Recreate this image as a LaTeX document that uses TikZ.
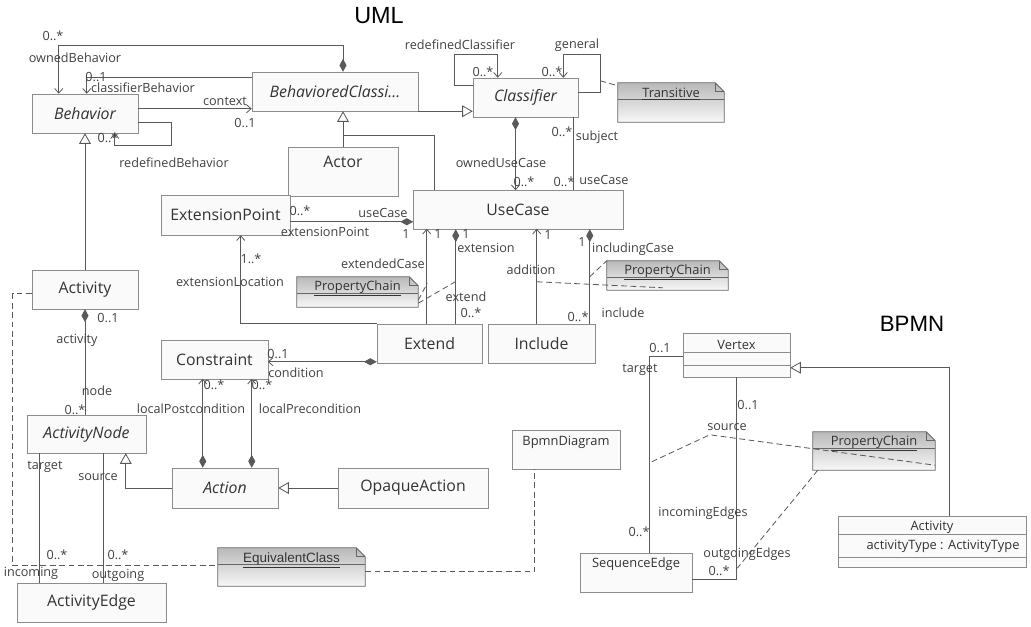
\documentclass[tikz,border=0pt]{standalone}
\usepackage{fontspec}
\setmainfont{Open Sans}
\newfontfamily\arialf{Liberation Sans}
\usetikzlibrary{arrows.meta,calc,shadows,backgrounds}

\begin{document}
\begin{tikzpicture}[
    x=0.03cm, y=-0.03cm,
    box/.style={draw=black!45, fill=gray!4, minimum height=1.17cm, text=black!80, font=\fontsize{13.5}{15}\selectfont, drop shadow={shadow xshift=1.2pt, shadow yshift=-1.2pt, opacity=0.3}},
    sbox/.style={box, font=\fontsize{11}{13}\selectfont},
    note/.style={inner ysep=1pt, text=black!80, font=\fontsize{11}{13}\selectfont},
    txtup/.style={text depth=#1},
    lbl/.style={inner sep=0pt, text=black!75, font=\fontsize{10.8}{12}\selectfont},
    conn/.style={draw=black!65, line width=0.7pt},
    assoc/.style={conn, -{Straight Barb[length=4pt, width=7pt]}},
    gen/.style={conn, -{Triangle[length=9pt, width=10pt, fill=white]}},
    comp/.style={conn, {Diamond[length=11pt, width=6pt]}-{Straight Barb[length=4pt, width=7pt]}},
    compn/.style={conn, {Diamond[length=11pt, width=6pt]}-},
    dep/.style={conn, dash pattern=on 5pt off 3pt},
    notebd/.style={draw=black!60, line width=0.7pt}
]
\useasboundingbox (0,0) rectangle (1031,627);

\node[font=\arialf\fontsize{20}{22}\selectfont] (umlttl) at (379,16) {UML};
\node[font=\arialf\fontsize{19}{21}\selectfont] (bpmnttl) at (912,324) {BPMN};

\node[box, minimum width=3.18cm] (behav) at (85,113.5) {\itshape Behavior};
\node[box, minimum width=4.98cm] (bclass) at (335,91.5) {\itshape BehavioredClassi...};
\node[box, minimum width=3.15cm] (cls) at (525.5,97.5) {\itshape Classifier};
\node[box, minimum width=3.3cm, minimum height=1.47cm, txtup=0.57cm] (actor) at (343,171.5) {Actor};
\node[box, minimum width=6.3cm] (usecase) at (518,209.5) {UseCase};
\node[box, minimum width=3.87cm, minimum height=1.2cm] (extpt) at (225.5,215) {ExtensionPoint};
\node[box, minimum width=3.18cm] (activity) at (85,289.5) {Activity};
\node[box, minimum width=3.21cm] (constr) at (214.5,359.5) {Constraint};
\node[box, minimum width=3.15cm] (extend) at (429.5,343.5) {Extend};
\node[box, minimum width=3.21cm] (incl) at (541.5,343.5) {Include};
\node[box, minimum width=3.57cm, minimum height=1.14cm] (anode) at (86.5,434) {\itshape ActivityNode};
\node[box, minimum width=3.18cm, minimum height=1.2cm] (action) at (225,488) {\itshape Action};
\node[box, minimum width=4.5cm, minimum height=1.2cm] (opaque) at (413,488) {OpaqueAction};
\node[box, minimum width=4.47cm] (aedge) at (91.5,602.5) {ActivityEdge};

\node[sbox, minimum width=3.24cm, txtup=0.51cm] (bpmnd) at (566,449.5) {BpmnDiagram};
\node[sbox, minimum width=3.21cm, minimum height=1.32cm, txtup=0.6cm] (vertex) at (736.5,355) {Vertex};
\node[sbox, minimum width=3.36cm, txtup=0.57cm] (seqedge) at (636,572.5) {SequenceEdge};
\node[sbox, minimum width=5.64cm, minimum height=1.53cm, txtup=0.93cm] (bact) at (932,541.5) {Activity};
\node[lbl, text=black!80, font=\fontsize{11}{13}\selectfont] (bactattr) at (943,546) {activityType : ActivityType};
\draw[draw=black!45] ($(vertex.north west)+(0,19)$) -- ($(vertex.north east)+(0,19)$);
\draw[draw=black!45] ($(vertex.north west)+(0,32)$) -- ($(vertex.north east)+(0,32)$);
\draw[draw=black!45] ($(bact.north west)+(0,18)$) -- ($(bact.north east)+(0,18)$);
\draw[draw=black!45] ($(bact.north west)+(0,41)$) -- ($(bact.north east)+(0,41)$);

\node[note, minimum width=3.18cm, minimum height=1.17cm, txtup=0.57cm] (trans) at (671,102.5) {\underline{Transitive}};
\node[note, minimum width=3.63cm, minimum height=0.9cm, txtup=0.36cm] (pcA) at (357.5,292) {\underline{PropertyChain}};
\node[note, minimum width=3.63cm, minimum height=0.87cm, txtup=0.33cm] (pcB) at (667.5,275.5) {\underline{PropertyChain}};
\node[note, minimum width=3.66cm, minimum height=1.14cm, txtup=0.6cm] (pcC) at (874,451) {\underline{PropertyChain}};
\node[note, minimum width=4.41cm, minimum height=1.14cm, txtup=0.54cm, font=\arialf\fontsize{11.5}{13}\selectfont] (equiv) at (291.5,567) {\underline{EquivalentClass}};

\begin{pgfonlayer}{background}
\foreach \n in {trans,pcA,pcB,pcC,equiv}{
  \path[notebd, top color=gray!55, bottom color=gray!6] (\n.north west) -- ($(\n.north east)+(-9,0)$) -- ($(\n.north east)+(0,9)$) -- (\n.south east) -- (\n.south west) -- cycle;
  \draw[notebd] ($(\n.north east)+(-9,0)$) |- ($(\n.north east)+(0,9)$);
  \draw[notebd] ($(\n.north west)+(0,17)$) -- ($(\n.north east)+(0,17)$);
}
\end{pgfonlayer}

\draw[comp] ($(bclass.north)+(8,0)$) -- ++(0,-26) -| ($(behav.north west)+(27,0)$);
\draw[assoc] ($(bclass.north west)+(0,6)$) -| ($(behav.north west)+(55,0)$);
\draw[assoc] ($(behav.north east)+(0,15)$) -- ($(bclass.north west)+(0,37)$);
\draw[assoc] ($(behav.north east)+(0,29)$) -- ++(33,0) -- ++(0,23) -| ($(behav.south west)+(83,0)$);
\draw[gen] (activity.north) -- (behav.south);
\draw[gen] (bclass.south east) -- (bclass.south east -| cls.west);
\draw[gen] (actor.north) -- (actor.north |- bclass.south);
\draw[conn] ($(usecase.north west)+(22,0)$) |- ($(actor.north)+(0,-11)$);
\draw[comp] ($(cls.south)+(-10,0)$) -- ++(0,73);
\draw[conn] ($(cls.south east)+(-5,0)$) -- ++(0,73);
\draw[assoc] ($(cls.north west)+(0,8)$) -- ++(-18,0) -- ++(0,-31) -- ++(43,0) -- ++(0,23);
\draw[assoc] ($(cls.north east)+(0,15)$) -- ++(22,0) -- ++(0,-38) -- ++(-37,0) -- ++(0,23);
\draw[dep] ($(cls.north east)+(22,3)$) -- ($(trans.north west)+(0,3)$);

\draw[conn, -{Diamond[length=11pt, width=6pt]}] ($(extpt.north east)+(0,27)$) -- ++(123,0);
\draw[assoc] ($(extend.north west)+(50,0)$) -- ++(0,-95);
\draw[compn] ($(usecase.south west)+(43,0)$) -- ++(0,95);
\draw[assoc] (extend.north west) -| ($(extpt.south west)+(80,0)$);
\draw[comp] ($(extend.north west)+(0,38)$) -- ++(-109,0);
\draw[dep] ($(pcA.south east)+(0,-7)$) -- ++(9,-17);
\draw[dep] ($(pcA.south east)+(0,-4)$) -- ++(38,-22);
\draw[assoc] ($(incl.north west)+(49,0)$) -- ++(0,-95);
\draw[compn] ($(usecase.south west)+(177,0)$) -- ++(0,95);
\draw[dep] ($(incl.north west)+(49,-42)$) -- ++(126,6);
\draw[dep] ($(incl.north west)+(102,-47)$) -- (pcB.north west);

\draw[compn] (activity.south) -- (activity.south |- anode.north);
\draw[comp] ($(action.north west)+(31,0)$) -- ++(0,-89);
\draw[comp] ($(action.north west)+(80,0)$) -- ++(0,-89);
\draw[gen] (action.west) -| ($(anode.south west)+(99,0)$);
\draw[gen] (opaque.west) -- (action.east);
\draw[conn] ($(anode.south west)+(13,0)$) -- ++(0,130);
\draw[conn] ($(anode.south west)+(77,0)$) -- ++(0,130);
\draw[dep] ($(activity.north west)+(0,24)$) -- ++(-19,0) |- ($(equiv.north west)+(0,18)$);
\draw[dep] ($(equiv.north east)+(0,24)$) -| ($(bpmnd.south west)+(23,0)$);

\draw[conn] ($(vertex.north west)+(0,24)$) -| ($(seqedge.north west)+(70,0)$);
\draw[conn] ($(vertex.south west)+(54,0)$) |- ($(seqedge.south east)+(0,-13)$);
\draw[gen] ($(bact.north west)+(112,0)$) |- ($(vertex.north east)+(0,35)$);
\draw[dep] ($(seqedge.north west)+(72,-91)$) -- ++(58,-27) -- ($(pcC.south east)+(0,-5)$);
\draw[dep] ($(pcC.south west)+(5,0)$) -- ($(seqedge.south east)+(45,-24)$);

\node[lbl] (mOwnBeh) at (53,36) {0..*};
\node[lbl] (rOwnBeh) at (75,58) {ownedBehavior};
\node[lbl] (mClsBeh) at (96,77) {0..1};
\node[lbl] (rClsBeh) at (143,88) {classifierBehavior};
\node[lbl] (rContext) at (225,101) {context};
\node[lbl] (mContext) at (245,123) {0..1};
\node[lbl] (mRedBeh) at (108,138) {0..*};
\node[lbl] (rRedBeh) at (174,163) {redefinedBehavior};
\node[lbl] (rRedCls) at (460,45) {redefinedClassifier};
\node[lbl] (mRedCls) at (483,72) {0..*};
\node[lbl] (rGeneral) at (577,45) {general};
\node[lbl] (mGeneral) at (552,72) {0..*};
\node[lbl] (mSubject) at (562,132) {0..*};
\node[lbl] (rSubject) at (597,137) {subject};
\node[lbl] (rOwnUC) at (501,163) {ownedUseCase};
\node[lbl] (mOwnUC) at (524,182) {0..*};
\node[lbl] (mUseCase) at (564,182) {0..*};
\node[lbl] (rUseCase) at (604,180) {useCase};
\node[lbl] (mExtPt) at (300,211) {0..*};
\node[lbl] (rExtUC) at (383,213) {useCase};
\node[lbl] (rExtPt) at (325,232) {extensionPoint};
\node[lbl] (mExtUC) at (406,234) {1};
\node[lbl] (mExtCase) at (438,234) {1};
\node[lbl] (mExtens) at (466,234) {1};
\node[lbl] (rExtens) at (486,248) {extension};
\node[lbl] (rExtCase) at (383,264) {extendedCase};
\node[lbl] (mExtLoc) at (251,259) {1..*};
\node[lbl] (rExtLoc) at (230,282) {extensionLocation};
\node[lbl] (rExtend) at (466,297) {extend};
\node[lbl] (mExtend) at (471,313) {0..*};
\node[lbl] (mAddit) at (548,235) {1};
\node[lbl] (rAddit) at (531,270) {addition};
\node[lbl] (mInclCase) at (582,242) {1};
\node[lbl] (rInclCase) at (633,249) {includingCase};
\node[lbl] (mInclude) at (578,317) {0..*};
\node[lbl] (rInclude) at (623,313) {include};
\node[lbl] (mCond) at (278,354) {0..1};
\node[lbl] (rCond) at (296,373) {condition};
\node[lbl] (mActivity) at (108,318) {0..1};
\node[lbl] (rActivity) at (77,340) {activity};
\node[lbl] (rNode) at (97,391) {node};
\node[lbl] (mNode) at (75,410) {0..*};
\node[lbl] (mPost) at (214,385) {0..*};
\node[lbl] (rPost) at (191,409) {localPostcondition};
\node[lbl] (mPre) at (262,385) {0..*};
\node[lbl] (rPre) at (310,409) {localPrecondition};
\node[lbl] (rTarget) at (45,467) {target};
\node[lbl] (rSource) at (98,477) {source};
\node[lbl] (mIncoming) at (57,555) {0..*};
\node[lbl] (mOutgoing) at (118,555) {0..*};
\node[lbl] (rIncoming) at (31,573) {incoming};
\node[lbl] (rOutgoing) at (118,575) {outgoing};
\node[lbl] (mVtxTgt) at (660,348) {0..1};
\node[lbl] (rVtxTgt) at (640,370) {target};
\node[lbl] (mInEdges) at (639,532) {0..*};
\node[lbl] (rInEdges) at (703,513) {incomingEdges};
\node[lbl] (mVtxSrc) at (748,405) {0..1};
\node[lbl] (rVtxSrc) at (727,427) {source};
\node[lbl] (rOutEdges) at (747,554) {outgoingEdges};
\node[lbl] (mOutEdges) at (719,571) {0..*};
\end{tikzpicture}
\end{document}
